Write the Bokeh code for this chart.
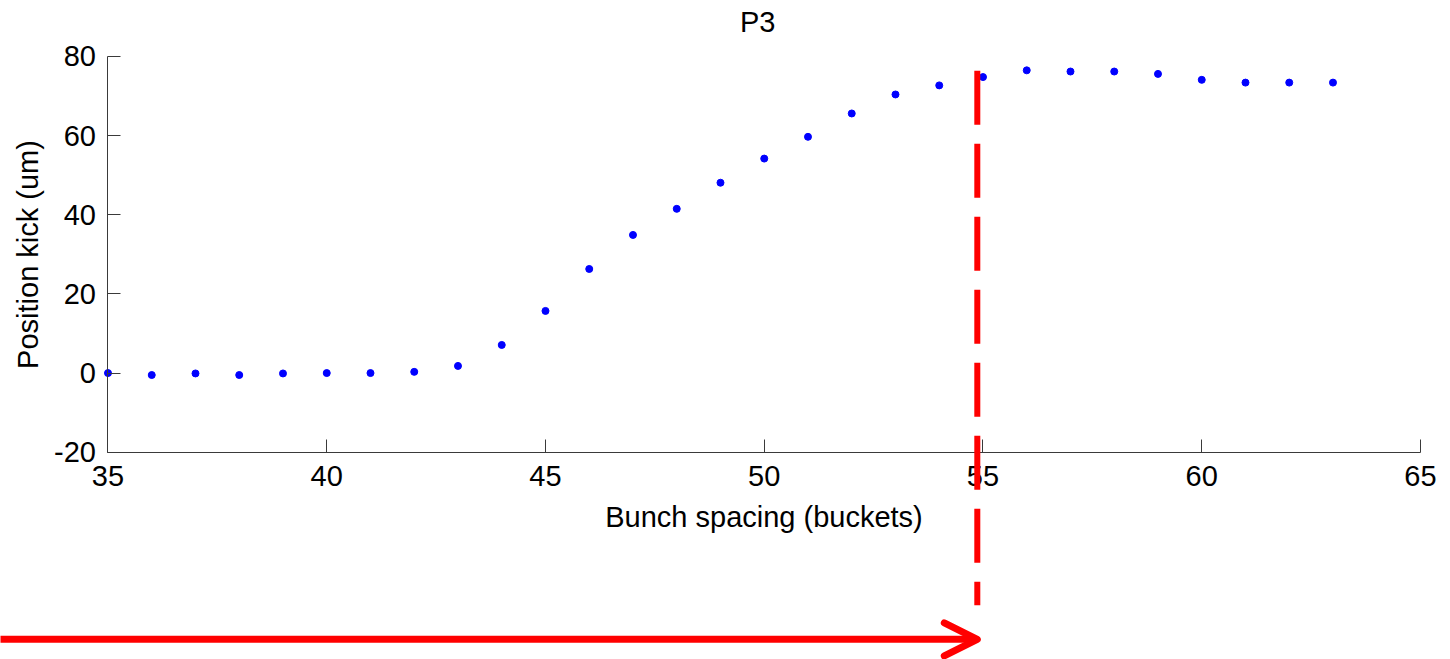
from bokeh.plotting import figure
from bokeh.models import Range1d, FixedTicker, Arrow, OpenHead, Label
from bokeh.embed import file_html
from bokeh.resources import INLINE

# Data
spacing = [35, 36, 37, 38, 39, 40, 41, 42, 43, 44, 45, 46, 47, 48, 49,
           50, 51, 52, 53, 54, 55, 56, 57, 58, 59, 60, 61, 62, 63]
kick = [0.0, -0.5, -0.1, -0.5, -0.1, 0.0, 0.0, 0.3, 1.8, 7.1, 15.7, 26.3, 34.9, 41.5, 48.1,
        54.2, 59.7, 65.6, 70.4, 72.7, 74.8, 76.5, 76.2, 76.2, 75.6, 74.1, 73.4, 73.4, 73.4]
x_ticks = [35, 40, 45, 50, 55, 60, 65]
y_ticks = [-20, 0, 20, 40, 60, 80]
x_bounds = (35, 65)
y_bounds = (-20, 80)

# annotation positions (data units)
marker_x = 54.87
dash_top, dash_bottom = 76.4, -58.7
arrow_start_x, arrow_y = 32.4, -67.3
title_pos = (49.85, 88.7)

FONT = "Liberation Sans"
FS = "29px"

# the frame covers the whole canvas so the annotations below the axes are not clipped
p = figure(width=1450, height=659, output_backend="svg", toolbar_location=None,
           x_range=Range1d(32.543, 65.686), y_range=Range1d(-72.39, 94.15),
           min_border=0)
p.outline_line_color = None
p.xgrid.visible = False
p.ygrid.visible = False
p.background_fill_color = "white"
p.border_fill_color = "white"

p.xaxis.fixed_location = y_bounds[0]
p.yaxis.fixed_location = x_bounds[0]
p.xaxis.bounds = x_bounds
p.yaxis.bounds = y_bounds

for ax in (p.xaxis[0], p.yaxis[0]):
    ax.major_tick_in = 13
    ax.major_tick_out = 0
    ax.minor_tick_in = 0
    ax.minor_tick_out = 0
    ax.axis_line_color = "#3a3a3a"
    ax.major_tick_line_color = "#3a3a3a"
    ax.major_label_text_font = FONT
    ax.major_label_text_font_size = FS
    ax.major_label_text_color = "black"
    ax.axis_label_text_font = FONT
    ax.axis_label_text_font_size = FS
    ax.axis_label_text_font_style = "normal"
    ax.axis_label_text_color = "black"

p.xaxis.ticker = FixedTicker(ticks=x_ticks)
p.yaxis.ticker = FixedTicker(ticks=y_ticks)
p.yaxis.major_label_overrides = {t: str(t) for t in y_ticks}
p.xaxis.major_label_overrides = {t: str(t) for t in x_ticks}
p.xaxis.axis_label = "Bunch spacing (buckets)"
p.yaxis.axis_label = "Position kick (um)"
p.xaxis.major_label_standoff = 14
p.yaxis.major_label_standoff = 12
p.xaxis.axis_label_standoff = 11
p.yaxis.axis_label_standoff = 7

p.scatter(spacing, kick, marker="circle", size=7, color="blue")

dash = Arrow(end=None, x_start=marker_x, y_start=dash_top, x_end=marker_x, y_end=dash_bottom,
             line_color="red", line_width=6, line_dash="54 19")
p.add_layout(dash)

arrow = Arrow(end=OpenHead(line_color="red", line_width=7, size=33, line_cap="round", line_join="round"),
              x_start=arrow_start_x, y_start=arrow_y, x_end=marker_x, y_end=arrow_y,
              line_color="red", line_width=7)
p.add_layout(arrow)

title = Label(x=title_pos[0], y=title_pos[1], text="P3", text_align="center", text_baseline="middle",
              text_font=FONT, text_font_size=FS, text_color="black")
p.add_layout(title)

open("out.html", "w").write(file_html(p, INLINE))
